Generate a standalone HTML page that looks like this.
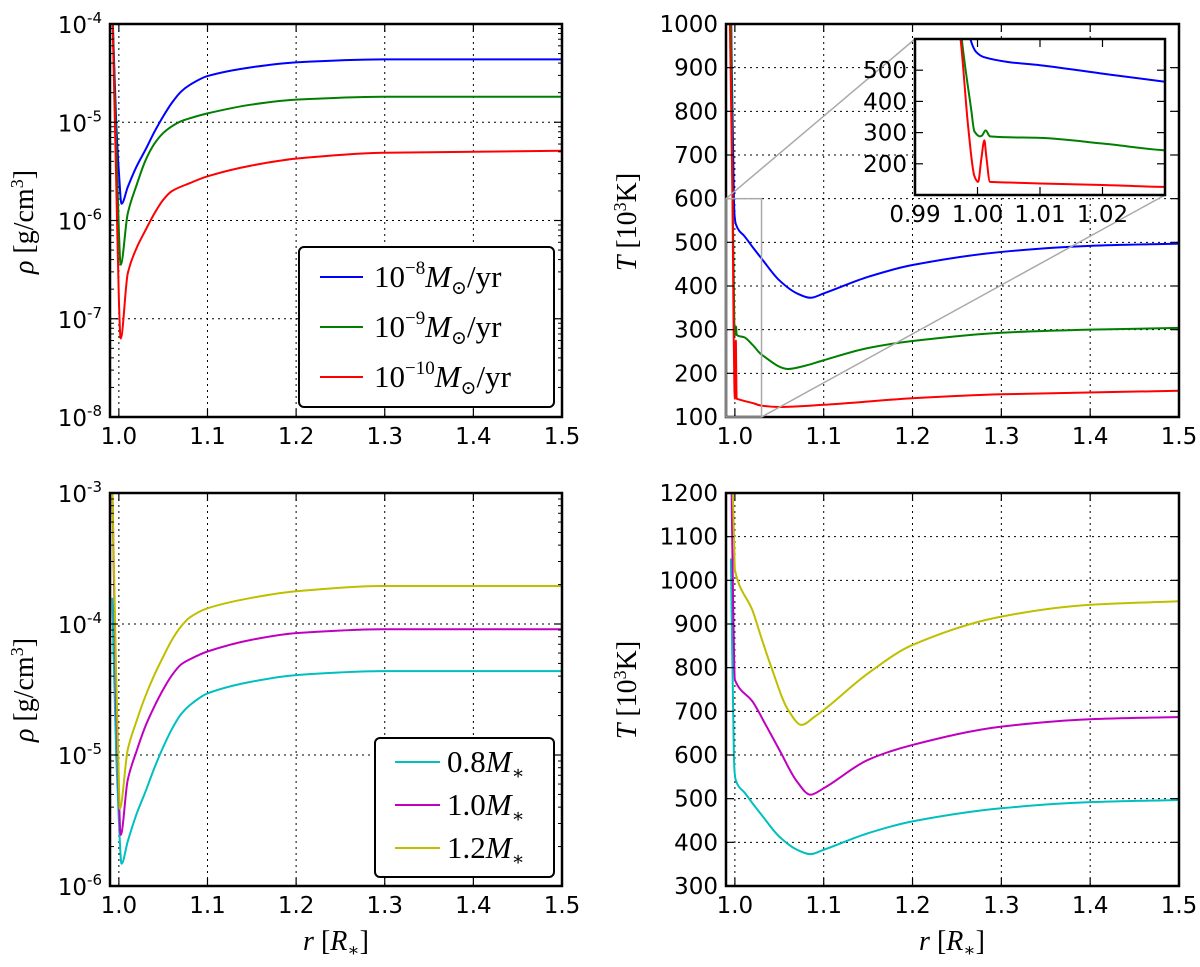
<!DOCTYPE html>
<html><head><meta charset="utf-8"><style>
body{margin:0;background:#fff}
svg text{font-family:"DejaVu Sans","Liberation Sans",sans-serif}
.ser{font-family:"Liberation Serif","DejaVu Serif",serif}
</style></head><body>
<svg id="fig" width="1200" height="962" viewBox="0 0 1200 962" xmlns="http://www.w3.org/2000/svg"></svg>
<script>
// ---- data ----
const rhoBlueR=[0.9925,0.997,1.0,1.003,1.01,1.02,1.03,1.04,1.05,1.06,1.07,1.08,1.1,1.15,1.2,1.3,1.5];
const rhoBlueV=[-3.8,-5.0,-5.5,-5.83,-5.66,-5.45,-5.28,-5.1,-4.94,-4.8,-4.69,-4.62,-4.53,-4.44,-4.39,-4.36,-4.36];
const rhoGreenR=[0.9925,0.997,1.0,1.002,1.01,1.02,1.03,1.04,1.05,1.06,1.07,1.08,1.1,1.15,1.2,1.3,1.5];
const rhoGreenV=[-3.8,-5.2,-6.1,-6.45,-5.93,-5.64,-5.39,-5.22,-5.11,-5.04,-4.99,-4.96,-4.91,-4.82,-4.77,-4.74,-4.74];
const rhoRedR=[0.9925,0.997,1.0,1.002,1.01,1.02,1.03,1.04,1.05,1.06,1.08,1.1,1.15,1.2,1.3,1.5];
const rhoRedV=[-3.8,-5.6,-6.8,-7.2,-6.54,-6.28,-6.1,-5.93,-5.79,-5.7,-5.62,-5.55,-5.44,-5.37,-5.31,-5.29];
const tBlueR=[0.9955,0.9989,0.9998,1.001,1.005,1.01,1.02,1.03,1.05,1.07,1.085,1.1,1.15,1.2,1.3,1.4,1.5];
const tBlueV=[1050,597,558,542,526,516,489,463,413,383,373,383,421,448,478,492,497];
const tGreenR=[0.9955,0.9975,0.999,0.9995,1.0004,1.0007,1.0013,1.002,1.005,1.01,1.02,1.03,1.06,1.08,1.1,1.15,1.2,1.3,1.4,1.5];
const tGreenV=[1050,597,373,304,288,290,307,288,285,283,265,243,210,218,230,258,274,293,300,304];
const tRedR=[0.994,0.9973,0.9985,0.9995,1.0001,1.0006,1.0011,1.0014,1.002,1.005,1.01,1.02,1.03,1.05,1.1,1.2,1.3,1.5];
const tRedV=[1050,597,320,161,142,214,275,225,142,140,137,132,126,123,128,143,152,160];
const rhoCyanR=rhoBlueR, rhoCyanV=rhoBlueV;
const rhoMagR=[0.9925,0.997,1.0,1.002,1.01,1.02,1.03,1.04,1.05,1.06,1.07,1.08,1.1,1.15,1.2,1.3,1.5];
const rhoMagV=[-2.9,-4.6,-5.3,-5.61,-5.19,-4.97,-4.78,-4.63,-4.5,-4.39,-4.31,-4.27,-4.21,-4.12,-4.07,-4.04,-4.04];
const rhoYelR=[0.9925,0.997,1.0,1.001,1.01,1.02,1.03,1.04,1.05,1.06,1.07,1.08,1.1,1.15,1.2,1.3,1.5];
const rhoYelV=[-2.9,-4.4,-5.2,-5.41,-4.96,-4.74,-4.55,-4.39,-4.25,-4.12,-4.02,-3.95,-3.88,-3.8,-3.75,-3.71,-3.71];
const tCyanR=tBlueR, tCyanV=tBlueV;
const tMagR=[0.996,0.998,1.0,1.02,1.035,1.05,1.07,1.085,1.1,1.15,1.2,1.3,1.4,1.5];
const tMagV=[1250,950,772,722,668,612,539,509,524,589,623,665,682,687];
const tYelR=[0.997,0.999,1.0,1.02,1.03,1.04,1.06,1.075,1.09,1.1,1.15,1.2,1.3,1.4,1.5];
const tYelV=[1250,1100,1024,930,867,807,703,669,688,703,787,852,917,944,952];
const xTicks=[1.0,1.1,1.2,1.3,1.4,1.5];
const xTickLabels=["1.0","1.1","1.2","1.3","1.4","1.5"];
const insetXTicks=[0.99,1.00,1.01,1.02];
const insetXLabels=["0.99","1.00","1.01","1.02"];
const insetYTicks=[200,300,400,500];

const NS="http://www.w3.org/2000/svg";
const svg=document.getElementById('fig');
function el(tag,attrs,parent,txt){const e=document.createElementNS(NS,tag);for(const k in attrs)e.setAttribute(k,attrs[k]);if(txt!==undefined)e.textContent=txt;(parent||svg).appendChild(e);return e;}
let clipN=0;
function panel(name,L,R,T,B,x0,x1,y0,y1,log){
  const g=el('g',{});
  
  
  const sx=v=>L+(v-x0)/(x1-x0)*(R-L);
  const sy=v=>B-(v-y0)/(y1-y0)*(B-T);
  const id='c'+(clipN++);
  const cp=el('clipPath',{id:id},g);el('rect',{x:L,y:T,width:R-L,height:B-T},cp);
  el('rect',{x:L,y:T,width:R-L,height:B-T,fill:'#fff'},g);
  return {g,sx,sy,L,R,T,B,id,x0,x1,y0,y1,log};
}
function grid(p,xt,yt){
  for(const v of xt){const x=p.sx(v);if(x>p.L+1&&x<p.R-1){const l=el('line',{x1:x,x2:x,y1:p.T,y2:p.B,stroke:'#000','stroke-width':1,'stroke-dasharray':'2,4'},p.g);}}
  for(const v of yt){const y=p.sy(v);if(y>p.T+1&&y<p.B-1){const l=el('line',{x1:p.L,x2:p.R,y1:y,y2:y,stroke:'#000','stroke-width':1,'stroke-dasharray':'2,4'},p.g);}}
}
function ticks(p,xt,xl,yt,yl,fs,minor){
  for(let i=0;i<xt.length;i++){const x=p.sx(xt[i]);
    el('line',{x1:x,x2:x,y1:p.B,y2:p.B-8,stroke:'#000','stroke-width':1.2},p.g);
    el('line',{x1:x,x2:x,y1:p.T,y2:p.T+8,stroke:'#000','stroke-width':1.2},p.g);
    const t=el('text',{x:x,y:p.B+27,'text-anchor':'middle','font-size':fs},p.g,xl[i]);
    }
  for(let i=0;i<yt.length;i++){const y=p.sy(yt[i]);
    el('line',{x1:p.L,x2:p.L+8,y1:y,y2:y,stroke:'#000','stroke-width':1.2},p.g);
    el('line',{x1:p.R,x2:p.R-8,y1:y,y2:y,stroke:'#000','stroke-width':1.2},p.g);
    let t;
    if(p.log){t=el('text',{x:p.L-8,y:y+9,'text-anchor':'end','font-size':fs},p.g);
      el('tspan',{},t,'10');el('tspan',{dy:-10,'font-size':15},t,yl[i]);}
    else t=el('text',{x:p.L-8,y:y+8,'text-anchor':'end','font-size':fs},p.g,yl[i]);
    }
  if(minor){for(let d=p.y0;d<p.y1;d++)for(let k=2;k<10;k++){const y=p.sy(d+Math.log10(k));
    el('line',{x1:p.L,x2:p.L+4,y1:y,y2:y,stroke:'#000','stroke-width':1},p.g);
    el('line',{x1:p.R,x2:p.R-4,y1:y,y2:y,stroke:'#000','stroke-width':1},p.g);}}
}
function smoothPath(X,Y){
  const n=X.length,d=[],m=new Array(n);
  for(let i=0;i<n-1;i++)d.push((Y[i+1]-Y[i])/(X[i+1]-X[i]));
  m[0]=d[0];m[n-1]=d[n-2];
  for(let i=1;i<n-1;i++){m[i]=(d[i-1]*d[i]<=0)?0:(2/(1/d[i-1]+1/d[i]));}
  let s='M'+X[0].toFixed(2)+','+Y[0].toFixed(2);
  for(let i=0;i<n-1;i++){const h=(X[i+1]-X[i])/3;
    s+='C'+(X[i]+h).toFixed(2)+','+(Y[i]+m[i]*h).toFixed(2)+' '+(X[i+1]-h).toFixed(2)+','+(Y[i+1]-m[i+1]*h).toFixed(2)+' '+X[i+1].toFixed(2)+','+Y[i+1].toFixed(2);}
  return s;
}
function series(p,xs,ys,color,name){
  const X=xs.map(p.sx),Y=ys.map(p.sy);
  const s=el('path',{d:smoothPath(X,Y),fill:'none',stroke:color,'stroke-width':2,'stroke-linejoin':'round','clip-path':'url(#'+p.id+')'},p.g);
  
}
function frame(p){el('rect',{x:p.L,y:p.T,width:p.R-p.L,height:p.B-p.T,fill:'none',stroke:'#000','stroke-width':2.5},p.g);}
function ylabel(x,y,parts,name){
  const t=el('text',{x:x,y:y,transform:'rotate(-90 '+x+' '+y+')','text-anchor':'middle','font-size':28,class:'ser'});
  
  for(const pr of parts){el('tspan',pr[1]||{},t,pr[0]);}
}
function xlabel(x,name){
  const xl=el('text',{x:x,y:950,'text-anchor':'middle','font-size':28,class:'ser'});
  
  el('tspan',{'font-style':'italic'},xl,'r');el('tspan',{},xl,' [');el('tspan',{'font-style':'italic'},xl,'R');el('tspan',{dy:6,'font-size':18},xl,'∗');el('tspan',{dy:-6},xl,']');
}
const C={b:'#0000ff',g:'#007f00',r:'#ff0000',c:'#00bfbf',m:'#bf00bf',y:'#bfbf00'};
const rhoParts=[['ρ',{'font-style':'italic'}],[' [g/cm'],['3',{dy:-10,'font-size':18}],[']',{dy:10}]];
const tParts=[['T',{'font-style':'italic'}],[' [10'],['3',{dy:-10,'font-size':18}],['K]',{dy:10}]];

// Top-left
let p=panel('density-panel-mass-loss',110,562,24,417,0.99,1.5,-8,-4,true);
grid(p,xTicks,[-7,-6,-5]);
series(p,rhoBlueR,rhoBlueV,C.b,'density-line-1e-8');
series(p,rhoGreenR,rhoGreenV,C.g,'density-line-1e-9');
series(p,rhoRedR,rhoRedV,C.r,'density-line-1e-10');
ticks(p,xTicks,xTickLabels,[-8,-7,-6,-5,-4],['-8','-7','-6','-5','-4'],23,true);frame(p);
ylabel(33,222,rhoParts,'y-axis-title-density');
let lg=el('g',{});
el('rect',{x:299,y:247,width:255,height:160,rx:5,fill:'#fff',stroke:'#000','stroke-width':2},lg);
[['−8',C.b,277],['−9',C.g,327],['−10',C.r,377]].forEach(e=>{
  el('line',{x1:320,x2:363,y1:e[2],y2:e[2],stroke:e[1],'stroke-width':2},lg);
  const t=el('text',{x:374,y:e[2]+10,'font-size':31,class:'ser'},lg);
  
  el('tspan',{},t,'10');el('tspan',{dy:-13,'font-size':19},t,e[0]);
  el('tspan',{dy:13,'font-style':'italic'},t,'M');el('tspan',{dy:7,'font-size':19},t,'⊙');
  el('tspan',{dy:-7},t,'/yr');
});

// Top-right
p=panel('temperature-panel-mass-loss',726,1179,24,417,0.99,1.5,100,1000,false);
grid(p,xTicks,[200,300,400,500,600,700,800,900]);
series(p,tBlueR,tBlueV,C.b,'temperature-line-1e-8');
series(p,tGreenR,tGreenV,C.g,'temperature-line-1e-9');
series(p,tRedR,tRedV,C.r,'temperature-line-1e-10');
ticks(p,xTicks,xTickLabels,[100,200,300,400,500,600,700,800,900,1000],['100','200','300','400','500','600','700','800','900','1000'],23,false);frame(p);
ylabel(636,222,tParts,'y-axis-title-temperature');
const zx0=p.sx(0.99),zx1=p.sx(1.03),zy0=p.sy(600),zy1=p.sy(100);
el('rect',{x:zx0,y:zy0,width:zx1-zx0,height:zy1-zy0,fill:'none',stroke:'#aaa','stroke-width':1.5});
el('line',{x1:zx0,y1:zy0,x2:915,y2:39,stroke:'#aaa','stroke-width':1.5});
el('line',{x1:zx1,y1:zy1,x2:1165,y2:195,stroke:'#aaa','stroke-width':1.5});
p=panel('inset-zoom-panel',915,1165,39,195,0.99,1.03,100,600,false);
series(p,tBlueR,tBlueV,C.b,'inset-line-1e-8');
series(p,tGreenR,tGreenV,C.g,'inset-line-1e-9');
series(p,tRedR,tRedV,C.r,'inset-line-1e-10');
ticks(p,insetXTicks,insetXLabels,insetYTicks,['200','300','400','500'],23,false);frame(p);

// Bottom-left
p=panel('density-panel-stellar-mass',110,562,493,886,0.99,1.5,-6,-3,true);
grid(p,xTicks,[-5,-4]);
series(p,rhoCyanR,rhoCyanV,C.c,'density-line-0.8M');
series(p,rhoMagR,rhoMagV,C.m,'density-line-1.0M');
series(p,rhoYelR,rhoYelV,C.y,'density-line-1.2M');
ticks(p,xTicks,xTickLabels,[-6,-5,-4,-3],['-6','-5','-4','-3'],23,true);frame(p);
ylabel(33,690,rhoParts,'y-axis-title-density-bottom');
lg=el('g',{});
el('rect',{x:375,y:738,width:179,height:139,rx:5,fill:'#fff',stroke:'#000','stroke-width':2},lg);
[['0.8',C.c,762],['1.0',C.m,805],['1.2',C.y,848]].forEach(e=>{
  el('line',{x1:395,x2:440,y1:e[2],y2:e[2],stroke:e[1],'stroke-width':2},lg);
  const t=el('text',{x:447,y:e[2]+10,'font-size':31,class:'ser'},lg);
  
  el('tspan',{},t,e[0]);el('tspan',{'font-style':'italic'},t,'M');el('tspan',{dy:7,'font-size':19},t,'∗');
});
xlabel(336,'x-axis-title-left');

// Bottom-right
p=panel('temperature-panel-stellar-mass',726,1179,493,886,0.99,1.5,300,1200,false);
grid(p,xTicks,[400,500,600,700,800,900,1000,1100]);
series(p,tCyanR,tCyanV,C.c,'temperature-line-0.8M');
series(p,tMagR,tMagV,C.m,'temperature-line-1.0M');
series(p,tYelR,tYelV,C.y,'temperature-line-1.2M');
ticks(p,xTicks,xTickLabels,[300,400,500,600,700,800,900,1000,1100,1200],['300','400','500','600','700','800','900','1000','1100','1200'],23,false);frame(p);
ylabel(636,690,tParts,'y-axis-title-temperature-bottom');
xlabel(952,'x-axis-title-right');
</script>
</body></html>
